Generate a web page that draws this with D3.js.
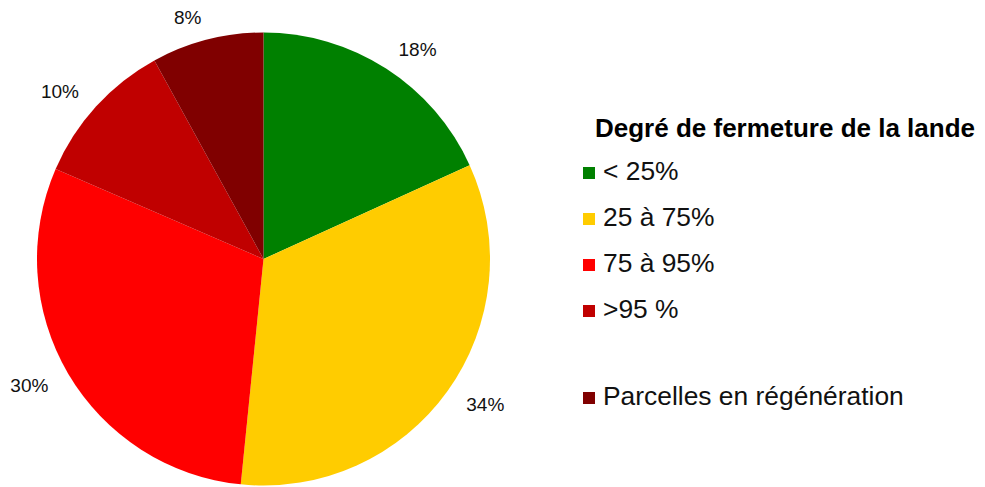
<!DOCTYPE html>
<html>
<head>
<meta charset="utf-8">
<script src="https://cdnjs.cloudflare.com/ajax/libs/d3/7.8.5/d3.min.js"></script>
<style>
  body { margin: 0; background: #fff; }
  svg { display: block; font-family: "Liberation Sans", Arial, sans-serif; }
</style>
</head>
<body>
<svg id="chart" width="985" height="487"></svg>
<script>
// data (slice sizes,
// labels as printed on the chart)
var categories = ["< 25%", "25 à 75%", "75 à 95%", ">95 %", "Parcelles en régénération"];
var values = [18.2, 33.4, 29.9, 10.5, 8.0];
var percentLabels = ["18%", "34%", "30%", "10%", "8%"];
var colors = ["#008000", "#ffcc00", "#ff0000", "#c00000", "#800000"];
var legendTitle = "Degré de fermeture de la lande";

var svg = d3.select("#chart");
var cx = 263.5, cy = 259, radius = 226.5;

var pie = d3.pie().sort(null).value(function(d) { return d; });
var arcs = pie(values);
var arc = d3.arc().innerRadius(0).outerRadius(radius);
var labelArc = d3.arc().innerRadius(radius + 23).outerRadius(radius + 23);

var g = svg.append("g").attr("transform", "translate(" + cx + "," + cy + ")");

g.selectAll("path.slice").data(arcs).enter()
    .append("path")
    .attr("class", "slice")
    .attr("d", arc)
    .attr("fill", function(d, i) { return colors[i]; });

g.selectAll("text.lbl").data(arcs).enter()
    .append("text")
    .attr("class", "lbl")
    .attr("x", function(d) { return labelArc.centroid(d)[0]; })
    .attr("y", function(d) { return labelArc.centroid(d)[1]; })
    .attr("dy", "0.35em")
    .attr("text-anchor", function(d) {
        var mid = (d.startAngle + d.endAngle) / 2;
        return mid < Math.PI ? "start" : "end";
    })
    .style("font-size", "19px")
    .attr("fill", "#111")
    .text(function(d, i) { return percentLabels[i]; });

// legend
var legend = svg.append("g").attr("transform", "translate(583,0)");

legend.append("text")
    .attr("x", 12)
    .attr("y", 137)
    .style("font-size", "26px")
    .style("font-weight", "bold")
    .attr("fill", "#000")
    .text(legendTitle);

var rowY = function(i) {
    // last entry sits one blank row further down
    return 180 + i * 46 + (i === categories.length - 1 ? 41 : 0);
};

var items = legend.selectAll("g.item").data(categories).enter()
    .append("g")
    .attr("class", "item")
    .attr("transform", function(d, i) { return "translate(0," + rowY(i) + ")"; });

items.append("rect")
    .attr("x", 0)
    .attr("y", -13)
    .attr("width", 12)
    .attr("height", 12)
    .attr("fill", function(d, i) { return colors[i]; });

items.append("text")
    .attr("x", 20)
    .attr("y", 0)
    .style("font-size", "26.4px")
    .attr("fill", "#111")
    .text(function(d) { return d; });
</script>
</body>
</html>
